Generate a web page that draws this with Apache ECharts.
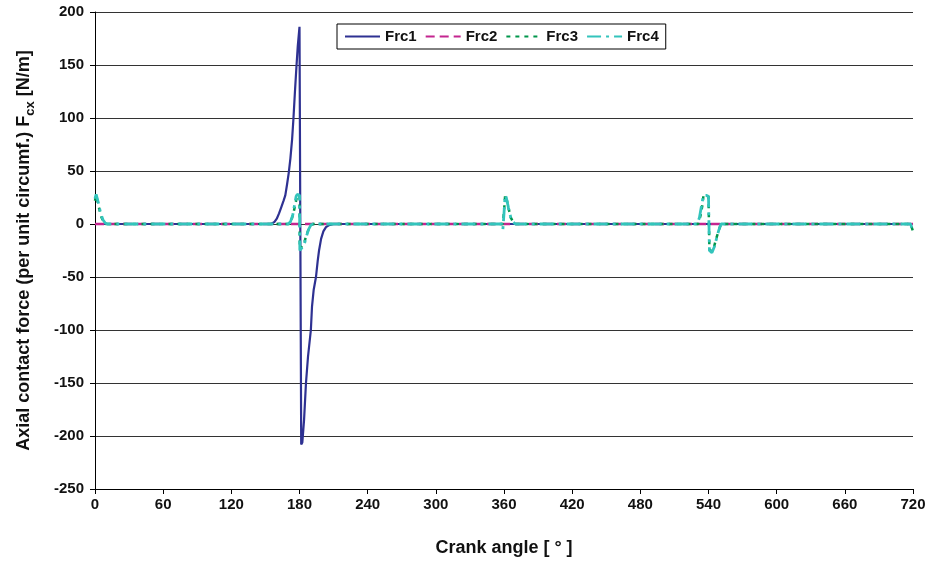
<!DOCTYPE html>
<html>
<head>
<meta charset="utf-8">
<script src="https://cdn.jsdelivr.net/npm/echarts@6/dist/echarts.min.js"></script>
<style>html,body{margin:0;padding:0;background:#fff}#c{width:931px;height:564px}</style>
</head>
<body>
<div id="c"></div>
<script>
var xTicks = [0, 60, 120, 180, 240, 300, 360, 420, 480, 540, 600, 660, 720];
var yTicks = [-250, -200, -150, -100, -50, 0, 50, 100, 150, 200];
var seriesNames = ['Frc1', 'Frc2', 'Frc3', 'Frc4'];

var frc1Angle = [0, 155, 158, 160, 162, 164, 166, 167.5, 169, 170.5, 172, 173.5, 174.7, 176, 177.4, 178.5, 180, 181.5, 182.5, 184, 185.7, 187.5, 190, 191, 192.5, 194.5, 196, 197.2, 199, 201, 203.3, 206, 210, 720];
var frc1Value = [0, 0, 2, 5, 10, 16, 22, 27, 37, 48, 62, 80, 100, 125, 150, 168, 186, -208, -206, -185, -150, -125, -100, -78, -62, -50, -35, -25, -14, -7, -3, -1, 0, 0];

var frc2Angle = [0, 720];
var frc2Value = [0, 0];

var frc3Angle = [0, 1, 3, 5, 7, 9, 171, 173, 175, 177, 178, 180, 180.3, 182, 184, 186, 188, 190, 192, 359, 360, 361, 362, 364, 366, 368, 370, 531, 533, 535, 535.5, 538, 540, 540.8, 543, 545, 547, 549, 551, 718, 720];
var frc3Value = [22, 27, 18, 8, 3, 0, 0, 4, 12, 22, 27, 27, -24, -24, -18, -11, -5, -1, 0, 0, 12, 27, 25, 15, 6, 2, 0, 0, 8, 20, 27, 27, 26, -24, -26, -21, -13, -6, 0, 0, -7];

var frc4Angle = [0, 1, 2, 3, 5, 7, 9, 11, 170, 172, 174, 175, 176, 177, 178, 180, 180.3, 182, 184, 186, 188, 190, 192, 358, 359, 360, 361, 362, 364, 366, 368, 370, 530, 532, 534, 535.5, 538, 540, 540.8, 543, 545, 547, 549, 551, 718, 720];
var frc4Value = [24, 28, 24, 20, 10, 4, 1, 0, 0, 2, 8, 14, 20, 26, 28, 27, -25, -25, -20, -12, -5, -1, 0, 0, -5, 10, 27, 25, 15, 6, 2, 0, 0, 6, 18, 27, 27, 26, -25, -27, -22, -14, -6, 0, 0, -8];

function zip(a, b) { return a.map(function (v, i) { return [v, b[i]]; }); }

var FONT = '"Liberation Sans", Arial, sans-serif';
var chart = echarts.init(document.getElementById('c'), null, {renderer: 'canvas'});
chart.setOption({
  animation: false,
  backgroundColor: '#ffffff',
  grid: {left: 95, right: 18, top: 12, bottom: 75, containLabel: false},
  legend: {
    data: seriesNames,
    left: 337, top: 24,
    padding: [5, 7, 5, 7],
    itemGap: 8,
    itemWidth: 35, itemHeight: 14,
    borderColor: '#000', borderWidth: 1,
    backgroundColor: '#fff',
    itemStyle: {opacity: 0},
    textStyle: {fontFamily: FONT, fontWeight: 'bold', fontSize: 15, color: '#111'}
  },
  xAxis: {
    type: 'value', min: 0, max: 720, interval: 60,
    name: 'Crank angle [ \u00b0 ]',
    nameLocation: 'middle', nameGap: 50,
    nameTextStyle: {fontFamily: FONT, fontWeight: 'bold', fontSize: 18, color: '#111'},
    axisLine: {show: true, onZero: false, lineStyle: {color: '#000', width: 1}},
    axisTick: {show: true, inside: false, length: 5, lineStyle: {color: '#000'}},
    axisLabel: {margin: 8, fontFamily: FONT, fontWeight: 'bold', fontSize: 15, color: '#111',
      formatter: function (v) { return xTicks.indexOf(v) >= 0 ? String(v) : ''; }},
    splitLine: {show: false}
  },
  yAxis: {
    type: 'value', min: -250, max: 200, interval: 50,
    name: '{m|Axial contact force (per unit circumf.) F}{s|cx}{m| [N/m]}',
    nameLocation: 'middle', nameGap: 62, nameRotate: 90,
    nameTextStyle: {
      fontFamily: FONT, fontWeight: 'bold', fontSize: 18, color: '#111',
      rich: {
        m: {fontFamily: FONT, fontWeight: 'bold', fontSize: 18, color: '#111', lineHeight: 22, verticalAlign: 'bottom'},
        s: {fontFamily: FONT, fontWeight: 'bold', fontSize: 13, color: '#111', lineHeight: 22, verticalAlign: 'bottom', padding: [0, 0, -4, 0]}
      }
    },
    axisLine: {show: true, onZero: false, lineStyle: {color: '#000', width: 1}},
    axisTick: {show: true, inside: false, length: 5, lineStyle: {color: '#000'}},
    axisLabel: {margin: 11, fontFamily: FONT, fontWeight: 'bold', fontSize: 15, color: '#111',
      formatter: function (v) { return yTicks.indexOf(v) >= 0 ? String(v) : ''; }},
    splitLine: {show: true, lineStyle: {color: '#333', width: 1}}
  },
  series: [
    {name: 'Frc1', type: 'line', data: zip(frc1Angle, frc1Value), symbol: 'none',
      lineStyle: {color: '#2E3192', width: 2.2, type: 'solid'}, itemStyle: {color: '#2E3192'}},
    {name: 'Frc2', type: 'line', data: zip(frc2Angle, frc2Value), symbol: 'none',
      lineStyle: {color: '#C4258F', width: 2.5, type: [9, 5]}, itemStyle: {color: '#C4258F'}},
    {name: 'Frc3', type: 'line', data: zip(frc3Angle, frc3Value), symbol: 'none',
      lineStyle: {color: '#00964B', width: 2.5, type: [4, 5]}, itemStyle: {color: '#00964B'}},
    {name: 'Frc4', type: 'line', data: zip(frc4Angle, frc4Value), symbol: 'none',
      lineStyle: {color: '#33C4BC', width: 2.8, type: [14, 5, 3, 5]}, itemStyle: {color: '#33C4BC'}}
  ]
});
</script>
</body>
</html>
